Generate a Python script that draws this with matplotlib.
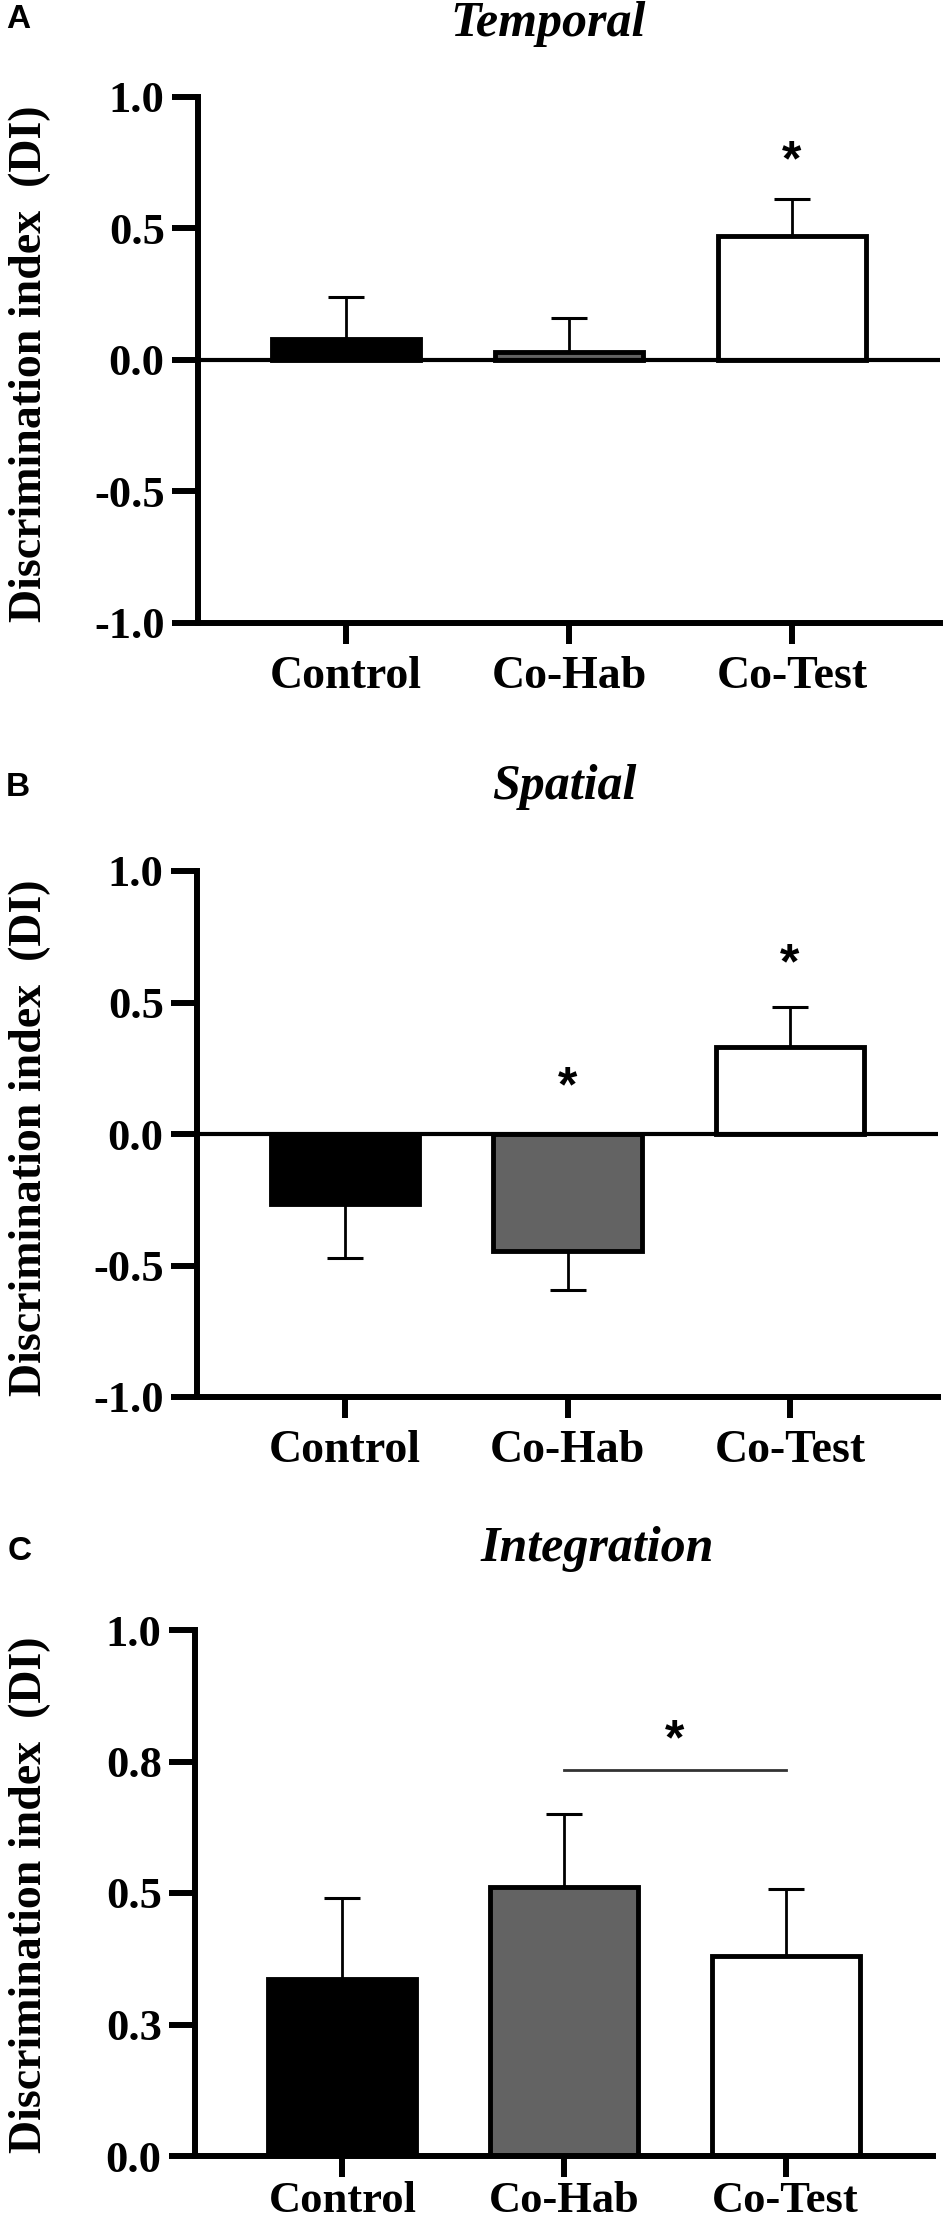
import matplotlib

matplotlib.use("Agg")
import matplotlib.pyplot as plt
import matplotlib.transforms as mtransforms
import numpy as np

W, H = 950, 2230

groups = ["Control", "Co-Hab", "Co-Test"]
bar_colors = ["#000000", "#636363", "#ffffff"]

temporal_mean = [0.08, 0.03, 0.471]
temporal_sem = [0.16, 0.13, 0.141]
spatial_mean = [-0.266, -0.445, 0.332]
spatial_sem = [0.205, 0.148, 0.149]
integration_mean = [0.337, 0.511, 0.381]
integration_sem = [0.153, 0.139, 0.127]

signed_ticks = [-1.0, -0.5, 0.0, 0.5, 1.0]
signed_ticklabels = ["-1.0", "-0.5", "0.0", "0.5", "1.0"]
integration_ticks = [0.0, 0.25, 0.5, 0.75, 1.0]
integration_ticklabels = ["0.0", "0.3", "0.5", "0.8", "1.0"]

temporal_stars = [(2, 0.787)]
spatial_stars = [(1, 0.21), (2, 0.68)]
integration_bracket = (1, 2, 0.733)
integration_star = (1.5, 0.806)

plt.rcParams["font.family"] = ["Liberation Serif", "DejaVu Serif"]
plt.rcParams["font.weight"] = "bold"

fig = plt.figure(figsize=(W / 100, H / 100), dpi=100)


def px_axes(left, right, top, bottom):
    return fig.add_axes([left / W, 1 - bottom / H, (right - left) / W, (bottom - top) / H])


def panel(ax, means, sems, ticks, ticklabels, ylim, zero_line, xpad=9):
    x = np.arange(len(groups))
    ax.bar(x, means, width=0.667, color=bar_colors, edgecolor="black", linewidth=3.5, zorder=2)
    for xi, m, s in zip(x, means, sems):
        yerr = [[0.0], [s]] if m >= 0 else [[s], [0.0]]
        ax.errorbar(xi, m, yerr=yerr, fmt="none", ecolor="black", elinewidth=2.0,
                    capsize=13.3, capthick=2.2, zorder=1)
    if zero_line:
        ax.axhline(0, color="black", linewidth=3.0, zorder=3)
    ax.set_xlim(-0.665, 2.665)
    ax.set_ylim(*ylim)
    ax.set_yticks(ticks)
    ax.set_yticklabels(ticklabels)
    ax.set_xticks(x)
    ax.set_xticklabels(groups)
    for side in ("top", "right"):
        ax.spines[side].set_visible(False)
    for side in ("left", "bottom"):
        ax.spines[side].set_linewidth(4.3)
    ax.tick_params(axis="y", length=19, width=4.3, pad=5, labelsize=32)
    ax.tick_params(axis="x", length=15, width=4.3, pad=xpad, labelsize=33)


def star(ax, x, y):
    tr = mtransforms.offset_copy(ax.transData, fig=fig, y=-7, units="points")
    ax.text(x, y, "*", transform=tr, ha="center", va="center", fontsize=36,
            family=["Liberation Sans", "DejaVu Sans"], fontweight="bold")


def ylabel(y_center):
    fig.text(30 / W, 1 - y_center / H, "Discrimination index  (DI)", rotation=90,
             ha="center", va="center", fontsize=33, fontweight="bold")


def titles(letter, lx, ly, title, tx, ty):
    fig.text(lx / W, 1 - ly / H, letter, ha="center", va="center", fontsize=24,
             family=["Liberation Sans", "DejaVu Sans"], fontweight="bold")
    fig.text(tx / W, 1 - ty / H, title, ha="center", va="center", fontsize=36,
             style="italic", fontweight="bold")


# A - temporal
ax_a = px_axes(198, 940, 97, 623)
panel(ax_a, temporal_mean, temporal_sem, signed_ticks, signed_ticklabels, (-1, 1), True)
for sx, sy in temporal_stars:
    star(ax_a, sx, sy)
ylabel(364)
titles("A", 18, 20, "Temporal", 548, 24)

# B - spatial
ax_b = px_axes(197, 938, 871, 1397)
panel(ax_b, spatial_mean, spatial_sem, signed_ticks, signed_ticklabels, (-1, 1), True)
for sx, sy in spatial_stars:
    star(ax_b, sx, sy)
ylabel(1138)
titles("B", 18, 787, "Spatial", 564, 787)

# C - integration (labels sit at the very bottom edge, as in the source)
ax_c = px_axes(195, 933, 1630, 2156)
panel(ax_c, integration_mean, integration_sem, integration_ticks, integration_ticklabels,
      (0, 1), False, xpad=3)
ax_c.tick_params(axis="x", labelsize=32)
x0, x1, yb = integration_bracket
ax_c.plot([x0, x1], [yb, yb], color="#333333", linewidth=2.0)
star(ax_c, *integration_star)
ylabel(1895)
titles("C", 20, 1552, "Integration", 597, 1549)

fig.savefig("out.png", dpi=100)
